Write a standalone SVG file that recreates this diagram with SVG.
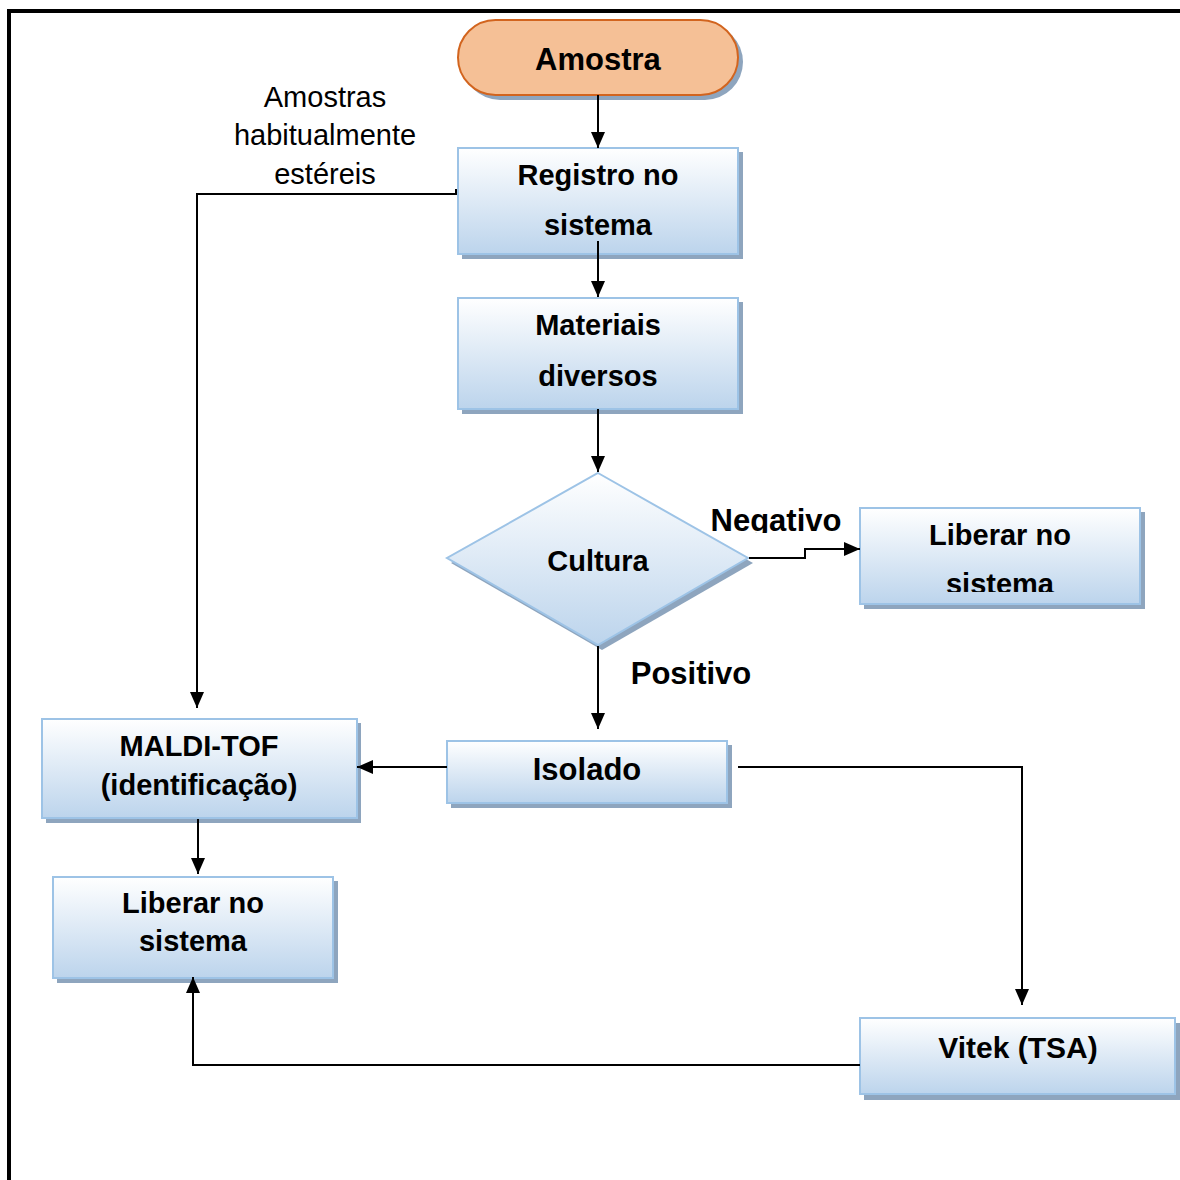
<svg xmlns="http://www.w3.org/2000/svg" width="1180" height="1180" viewBox="0 0 1180 1180">
<defs>
<linearGradient id="blue" x1="0" y1="0" x2="0" y2="1">
<stop offset="0" stop-color="#ffffff"/>
<stop offset="1" stop-color="#bcd4ec"/>
</linearGradient>
<marker id="arr" viewBox="0 0 16 14" refX="16" refY="7" markerWidth="16" markerHeight="14" markerUnits="userSpaceOnUse" orient="auto">
<path d="M0,0 L16,7 L0,14 Z" fill="#000"/>
</marker>
<clipPath id="clipNeg"><rect x="700" y="490" width="160" height="43"/></clipPath>
<clipPath id="clipLib"><rect x="860" y="507" width="280" height="85"/></clipPath>
</defs>
<style>
.box{fill:url(#blue);stroke:#9dc3e6;stroke-width:2}
.sh{fill:#8ea5be}
.t{font-family:"Liberation Sans",Arial,sans-serif;font-weight:bold;font-size:29px;fill:#000;text-anchor:middle}
.r{font-family:"Liberation Sans",Arial,sans-serif;font-size:29px;fill:#000;text-anchor:middle}
.c{fill:none;stroke:#000;stroke-width:2}
</style>
<rect width="1180" height="1180" fill="#fff"/>
<path d="M9,1180 V11 H1180" fill="none" stroke="#000" stroke-width="4"/>

<g id="label-esteril">
<text class="r" x="325" y="107">Amostras</text>
<text class="r" x="325" y="145">habitualmente</text>
<text class="r" x="325" y="184">estéreis</text>
</g>

<g id="amostra">
<rect class="sh" x="462" y="24" width="281" height="76" rx="38"/>
<rect x="458" y="20" width="280" height="75" rx="37.5" fill="#f5c096" stroke="#d2641e" stroke-width="2"/>
<text class="t" x="598" y="70" style="font-size:31px">Amostra</text>
</g>

<g id="registro">
<rect class="sh" x="462" y="152" width="281" height="107"/>
<rect class="box" x="458" y="148" width="280" height="106"/>
<text class="t" x="598" y="185">Registro no</text>
<text class="t" x="598" y="235">sistema</text>
</g>

<g id="materiais">
<rect class="sh" x="462" y="302" width="281" height="112"/>
<rect class="box" x="458" y="298" width="280" height="111"/>
<text class="t" x="598" y="335">Materiais</text>
<text class="t" x="598" y="386">diversos</text>
</g>

<g id="cultura">
<path class="sh" d="M602,478 L753,563 L602,650 L451,563 Z"/>
<path class="box" d="M598,473 L748,558 L598,645 L447,558 Z"/>
<text class="t" x="598" y="571">Cultura</text>
</g>

<g id="label-negativo">
<text class="t" x="776" y="531" style="font-size:31px" clip-path="url(#clipNeg)">Negativo</text>
</g>

<g id="label-positivo">
<text class="t" x="691" y="684" style="font-size:31px">Positivo</text>
</g>

<g id="liberar-direita">
<rect class="sh" x="864" y="512" width="281" height="97"/>
<rect class="box" x="860" y="508" width="280" height="96"/>
<text class="t" x="1000" y="545">Liberar no</text>
<text class="t" x="1000" y="594" clip-path="url(#clipLib)">sistema</text>
</g>

<g id="isolado">
<rect class="sh" x="451" y="745" width="281" height="63"/>
<rect class="box" x="447" y="741" width="280" height="62"/>
<text class="t" x="587" y="780" style="font-size:31px">Isolado</text>
</g>

<g id="maldi">
<rect class="sh" x="46" y="723" width="315" height="100"/>
<rect class="box" x="42" y="719" width="315" height="99"/>
<text class="t" x="199" y="756">MALDI-TOF</text>
<text class="t" x="199" y="795">(identificação)</text>
</g>

<g id="liberar-esquerda">
<rect class="sh" x="57" y="881" width="281" height="102"/>
<rect class="box" x="53" y="877" width="280" height="101"/>
<text class="t" x="193" y="913">Liberar no</text>
<text class="t" x="193" y="951">sistema</text>
</g>

<g id="vitek">
<rect class="sh" x="864" y="1023" width="316" height="77"/>
<rect class="box" x="860" y="1018" width="315" height="76"/>
<text class="t" x="1018" y="1058" style="font-size:30px">Vitek (TSA)</text>
</g>

<g id="connectors">
<path class="c" d="M598,95 V148" marker-end="url(#arr)"/>
<path class="c" d="M598,241 V297" marker-end="url(#arr)"/>
<path class="c" d="M598,409 V472" marker-end="url(#arr)"/>
<path class="c" d="M749,558 H805 V549 H860" marker-end="url(#arr)"/>
<path class="c" d="M598,646 V729" marker-end="url(#arr)"/>
<path class="c" d="M447,767 H357" marker-end="url(#arr)"/>
<path class="c" d="M198,819 V874" marker-end="url(#arr)"/>
<path class="c" d="M738,767 H1022 V1005" marker-end="url(#arr)"/>
<path class="c" d="M860,1065 H193 V977" marker-end="url(#arr)"/>
<path class="c" d="M456,189 V194 H197 V708" marker-end="url(#arr)"/>
</g>
</svg>
